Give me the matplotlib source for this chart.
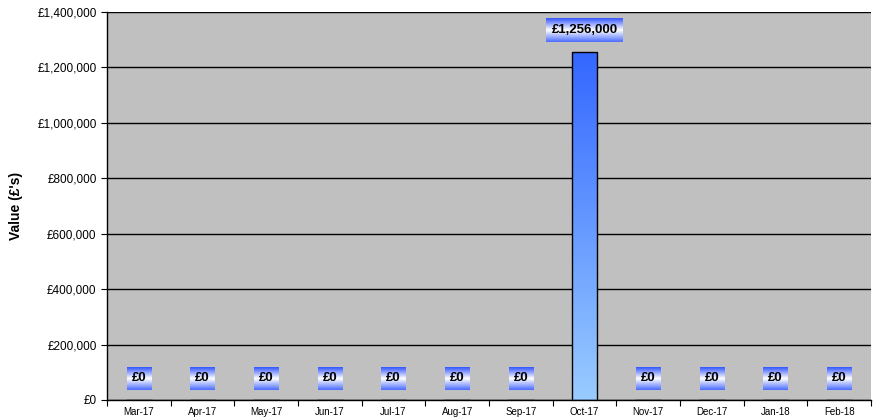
import numpy as np
import matplotlib.pyplot as plt
from matplotlib.colors import LinearSegmentedColormap

months = ['Mar-17', 'Apr-17', 'May-17', 'Jun-17', 'Jul-17', 'Aug-17',
          'Sep-17', 'Oct-17', 'Nov-17', 'Dec-17', 'Jan-18', 'Feb-18']
values = [0, 0, 0, 0, 0, 0, 0, 1256000, 0, 0, 0, 0]
y_ticks = [0, 200000, 400000, 600000, 800000, 1000000, 1200000, 1400000]

plt.rcParams['font.family'] = ['Liberation Sans', 'DejaVu Sans']

fig = plt.figure(figsize=(8.76, 4.2), dpi=100)
ax = fig.add_axes([107 / 876, 20 / 420, 764 / 876, 388 / 420])
ax.set_facecolor('#c0c0c0')

x = np.arange(len(months))
bars = ax.bar(x, values, width=0.4, color='none', edgecolor='black', linewidth=1, zorder=3)

ax.set_xlim(-0.5, len(months) - 0.5)
ax.set_ylim(0, 1400000)
ax.set_yticks(y_ticks)
ax.set_yticklabels(['£{:,.0f}'.format(v) for v in y_ticks], fontsize=8.5)
ax.yaxis.grid(True, color='black', linewidth=1)
ax.set_axisbelow(True)

# ticks between categories, labels at centres
ax.set_xticks(np.arange(-0.5, len(months), 1.0))
ax.set_xticklabels([])
ax.set_xticks(x, minor=True)
ax.set_xticklabels(months, minor=True, fontsize=7)
ax.tick_params(axis='x', which='minor', length=0, pad=5)
ax.tick_params(axis='x', which='major', length=4, direction='out')
ax.tick_params(axis='y', length=4, direction='out')

for s in ['top', 'right']:
    ax.spines[s].set_visible(False)
ax.spines['left'].set_linewidth(1)
ax.spines['bottom'].set_linewidth(1)

ax.set_ylabel("Value (£'s)", fontsize=10, fontweight='bold', labelpad=10)

# gradient fill for the bars
bar_cmap = LinearSegmentedColormap.from_list('bar', ['#99ccff', '#3366ff'])
grad = np.linspace(0, 1, 256).reshape(-1, 1)
for b in bars:
    if b.get_height() <= 0:
        continue
    im = ax.imshow(grad, cmap=bar_cmap, aspect='auto', origin='lower',
                   extent=[b.get_x(), b.get_x() + b.get_width(), 0, b.get_height()],
                   zorder=2)
    im.set_clip_path(b)
ax.set_xlim(-0.5, len(months) - 0.5)
ax.set_ylim(0, 1400000)

# data labels with blue-white-blue gradient boxes
label_cmap = LinearSegmentedColormap.from_list('lab', ['#4a6cff', '#ffffff', '#3355ff'])
texts = []
for xi, v in zip(x, values):
    t = ax.annotate('£{:,.0f}'.format(v), xy=(xi, v), xytext=(0, 16), textcoords='offset points',
                    ha='center', va='center', fontsize=9.5, fontweight='bold', zorder=6,
                    annotation_clip=False)
    texts.append(t)

fig.canvas.draw()
renderer = fig.canvas.get_renderer()
inv = ax.transData.inverted()
for t in texts:
    bb = t.get_window_extent(renderer)
    x0, y0 = inv.transform((bb.x0 - 5, bb.y0 - 6))
    x1, y1 = inv.transform((bb.x1 + 5, bb.y1 + 5))
    ax.imshow(grad, cmap=label_cmap, aspect='auto', origin='lower',
              extent=[x0, x1, y0, y1], zorder=5, clip_on=False)
ax.set_xlim(-0.5, len(months) - 0.5)
ax.set_ylim(0, 1400000)

fig.savefig('out.png', dpi=100)
